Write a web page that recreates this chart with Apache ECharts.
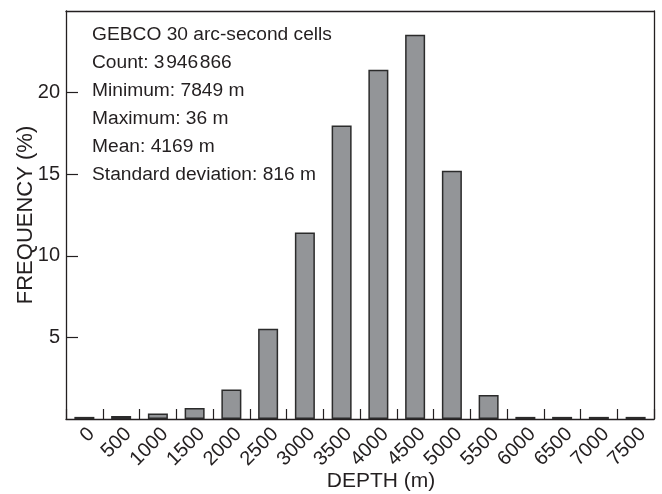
<!DOCTYPE html>
<html>
<head>
<meta charset="utf-8">
<script src="https://cdn.jsdelivr.net/npm/echarts@6/dist/echarts.min.js"></script>
<style>
  html, body { margin: 0; padding: 0; background: #fff; }
  #chart { width: 662px; height: 494px; }
</style>
</head>
<body>
<div id="chart"></div>
<script>
// depth bins (m) and frequency (%)
const depthBins = ['0', '500', '1000', '1500', '2000', '2500', '3000', '3500',
  '4000', '4500', '5000', '5500', '6000', '6500', '7000', '7500'];
const frequency = [0.13, 0.19, 0.33, 0.68, 1.8, 5.53, 11.43, 17.98,
  21.4, 23.54, 15.21, 1.47, 0.13, 0.13, 0.13, 0.13];
const statsLines = [
  'GEBCO 30 arc-second cells',
  'Count: 3\u200a946\u200a866',
  'Minimum: 7849 m',
  'Maximum: 36 m',
  'Mean: 4169 m',
  'Standard deviation: 816 m'
];

const ink = '#231f20';
const font = "'Liberation Sans', Arial, Helvetica, sans-serif";
const frameLine = { show: true, onZero: false, lineStyle: { color: ink, width: 1.3 } };

const chart = echarts.init(document.getElementById('chart'));

const option = {
  animation: false,
  textStyle: { fontFamily: font, color: ink },
  grid: {
    left: 66,
    right: 8,
    top: 11,
    bottom: 75,
    containLabel: false,
    outerBoundsMode: 'none'
  },
  xAxis: [
    {
      type: 'category',
      data: depthBins,
      name: 'DEPTH (m)',
      nameLocation: 'middle',
      nameGap: 52,
      nameMoveOverlap: false,
      nameTextStyle: { fontSize: 21, color: ink, padding: [0, 0, 0, 42] },
      axisLine: frameLine,
      axisTick: { show: true, inside: true, length: 10, interval: 0, lineStyle: { color: ink, width: 1.2 } },
      axisLabel: { rotate: 45, fontSize: 20, color: ink, margin: 5, interval: 0, verticalAlign: 'top' },
      splitLine: { show: false }
    },
    {
      // top edge of the frame
      type: 'category',
      data: depthBins,
      position: 'top',
      axisLine: frameLine,
      axisTick: { show: false },
      axisLabel: { show: false },
      splitLine: { show: false }
    }
  ],
  yAxis: [
    {
      type: 'value',
      min: 0,
      max: 25,
      interval: 5,
      name: 'FREQUENCY (%)',
      nameLocation: 'middle',
      nameGap: 29,
      nameMoveOverlap: false,
      nameTextStyle: { fontSize: 22, color: ink },
      axisLine: frameLine,
      axisTick: { show: true, inside: true, length: 12, lineStyle: { color: ink, width: 1.2 } },
      axisLabel: { fontSize: 20, color: ink, margin: 6, showMinLabel: false, showMaxLabel: false },
      splitLine: { show: false }
    },
    {
      // right edge of the frame
      type: 'value',
      min: 0,
      max: 25,
      interval: 5,
      position: 'right',
      axisLine: frameLine,
      axisTick: { show: false },
      axisLabel: { show: false },
      splitLine: { show: false }
    }
  ],
  series: [
    {
      type: 'bar',
      data: frequency,
      barWidth: 20,
      itemStyle: {
        color: '#939598',
        borderColor: '#2b2b2b',
        borderWidth: 1.5
      }
    }
  ],
  graphic: [
    {
      type: 'text',
      left: 92,
      top: 21,
      style: {
        text: statsLines.join('\n'),
        font: '19.2px ' + font,
        fill: ink,
        lineHeight: 28
      }
    }
  ]
};

chart.setOption(option);
</script>
</body>
</html>
